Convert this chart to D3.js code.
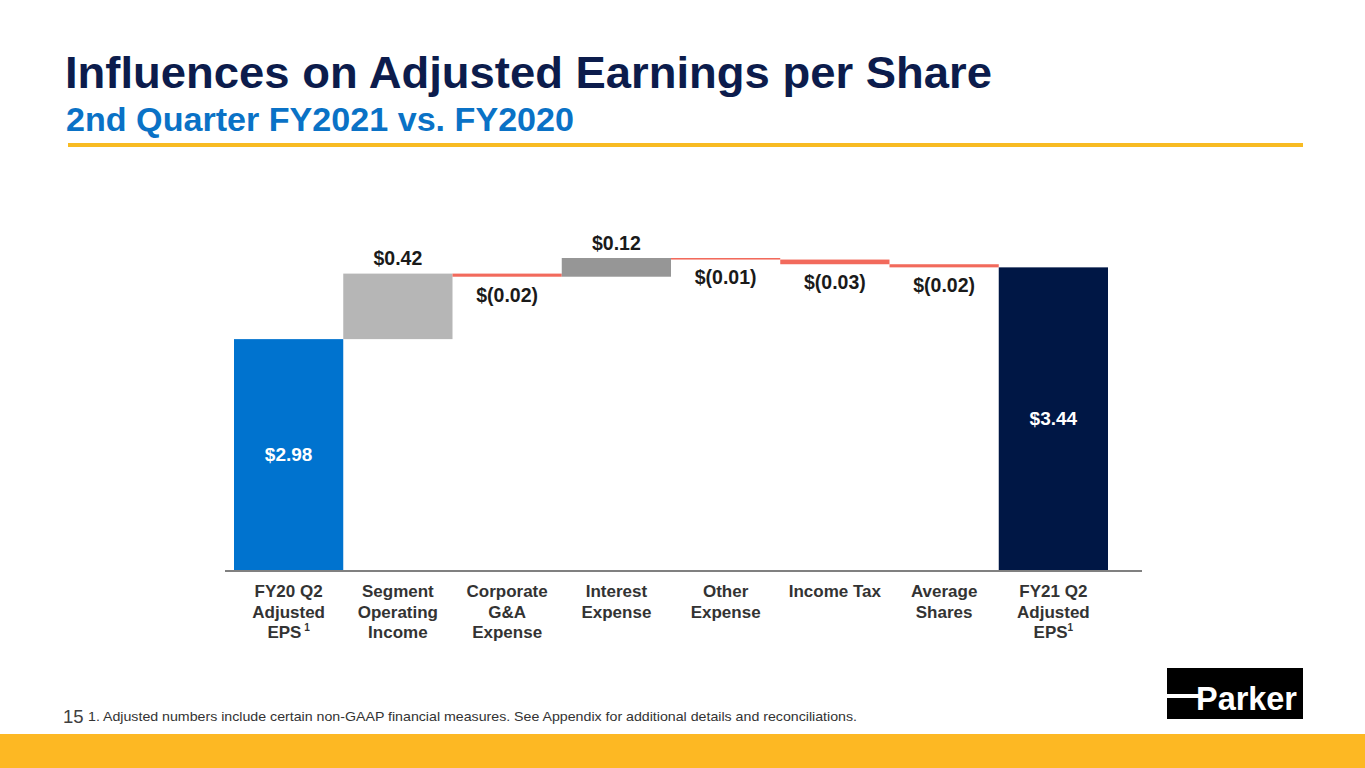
<!DOCTYPE html>
<html>
<head>
<meta charset="utf-8">
<script src="https://cdn.jsdelivr.net/npm/d3@7"></script>
<style>
  html, body { margin: 0; padding: 0; background: #fff; }
  text { font-family: "Liberation Sans", Arial, sans-serif; }
</style>
</head>
<body>
<script>
// chart data
var categories = ["FY20 Q2 Adjusted EPS", "Segment Operating Income", "Corporate G&A Expense",
  "Interest Expense", "Other Expense", "Income Tax", "Average Shares", "FY21 Q2 Adjusted EPS"];
var catLines = [["FY20 Q2", "Adjusted", "EPS"], ["Segment", "Operating", "Income"], ["Corporate", "G&A", "Expense"],
  ["Interest", "Expense"], ["Other", "Expense"], ["Income Tax"], ["Average", "Shares"], ["FY21 Q2", "Adjusted", "EPS"]];
var footMark = [true, false, false, false, false, false, false, true];
var values = [2.98, 0.42, -0.02, 0.12, -0.01, -0.03, -0.02, 3.44];
var kinds = ["total", "delta", "delta", "delta", "delta", "delta", "delta", "total"];
var axisMin = 1.5, axisMax = 3.5;

var W = 1365, H = 768;
var svg = d3.select("body").append("svg").attr("width", W).attr("height", H);

// header
svg.append("text").attr("x", 65).attr("y", 88)
  .attr("font-size", 45).attr("font-weight", "bold").attr("fill", "#0c1c4c")
  .attr("textLength", 927).attr("lengthAdjust", "spacingAndGlyphs")
  .text("Influences on Adjusted Earnings per Share");
svg.append("text").attr("x", 66).attr("y", 131)
  .attr("font-size", 33).attr("font-weight", "bold").attr("fill", "#0a72c6")
  .attr("textLength", 508).attr("lengthAdjust", "spacingAndGlyphs")
  .text("2nd Quarter FY2021 vs. FY2020");
svg.append("rect").attr("x", 68).attr("y", 143).attr("width", 1235).attr("height", 4).attr("fill", "#f8bb22");

// scales
var x = d3.scaleBand().domain(categories).range([234, 1108]).paddingInner(0).paddingOuter(0);
var y = d3.scaleLinear().domain([axisMin, axisMax]).range([570, 258]);

// compute waterfall segments
var run = 0;
var bars = values.map(function(v, i) {
  var lo, hi;
  if (kinds[i] == "total") { lo = axisMin; hi = v; run = v; }
  else { var s = run; run = run + v; lo = Math.min(s, run); hi = Math.max(s, run); }
  return { cat: categories[i], v: v, lo: lo, hi: hi, kind: kinds[i], i: i };
});

function barColor(d) {
  if (d.i == 0) return "#0073cf";
  if (d.kind == "total") return "#001745";
  if (d.v < 0) return "#f26a5c";
  return d.i == 1 ? "#b6b6b6" : "#969696";
}

svg.append("g").selectAll("rect").data(bars).enter().append("rect")
  .attr("x", function(d) { return x(d.cat); })
  .attr("width", x.bandwidth())
  .attr("y", function(d) { return y(d.hi); })
  .attr("height", function(d) { return Math.max(1.5, y(d.lo) - y(d.hi)); })
  .attr("fill", barColor);

var fmt = d3.format(".2f");
function label(v) { return v < 0 ? "$(" + fmt(-v) + ")" : "$" + fmt(v); }

// value labels
svg.append("g").selectAll("text").data(bars).enter().append("text")
  .attr("x", function(d) { return x(d.cat) + x.bandwidth() / 2; })
  .attr("y", function(d) {
    if (d.kind == "total") return (y(d.hi) + y(d.lo)) / 2;
    if (d.v < 0) return y(d.lo) + 18;
    return y(d.hi) - 15;
  })
  .attr("dy", "0.35em")
  .attr("text-anchor", "middle")
  .attr("font-size", function(d) { return d.kind == "total" ? 19 : 19.5; })
  .attr("font-weight", "bold")
  .attr("fill", function(d) { return d.kind == "total" ? "#fff" : "#1a1a1a"; })
  .text(function(d) { return label(d.v); });

// axis line
svg.append("line").attr("x1", 225).attr("x2", 1142).attr("y1", 571).attr("y2", 571)
  .attr("stroke", "#808080").attr("stroke-width", 2);

// category labels
var cl = svg.append("g").selectAll("text").data(categories).enter().append("text")
  .attr("x", function(d) { return x(d) + x.bandwidth() / 2; })
  .attr("y", 597)
  .attr("text-anchor", "middle")
  .attr("font-size", 17).attr("font-weight", "bold").attr("fill", "#333");
cl.each(function(d, i) {
  var t = d3.select(this);
  catLines[i].forEach(function(line, j) {
    t.append("tspan").attr("x", x(d) + x.bandwidth() / 2).attr("dy", j == 0 ? 0 : 20.5).text(line);
  });
  if (footMark[i]) {
    t.append("tspan").attr("font-size", 10).attr("dy", -7).text(i == 0 ? " 1" : "1");
  }
});

// footer
svg.append("text").attr("x", 63).attr("y", 723).attr("font-size", 18.5).attr("fill", "#404040").text("15");
svg.append("text").attr("x", 88).attr("y", 721).attr("font-size", 13).attr("fill", "#333")
  .attr("textLength", 769).attr("lengthAdjust", "spacingAndGlyphs")
  .text("1. Adjusted numbers include certain non-GAAP financial measures. See Appendix for additional details and reconciliations.");
svg.append("rect").attr("x", 0).attr("y", 734).attr("width", W).attr("height", 34).attr("fill", "#fdb823");

// logo
var logo = svg.append("g");
logo.append("rect").attr("x", 1167).attr("y", 668).attr("width", 136).attr("height", 51).attr("fill", "#000");
logo.append("rect").attr("x", 1167).attr("y", 694).attr("width", 32).attr("height", 4).attr("fill", "#fff");
logo.append("text").attr("x", 1196).attr("y", 710).attr("font-size", 34).attr("font-weight", "bold")
  .attr("fill", "#fff").attr("textLength", 101).attr("lengthAdjust", "spacingAndGlyphs")
  .text("Parker");
</script>
</body>
</html>
